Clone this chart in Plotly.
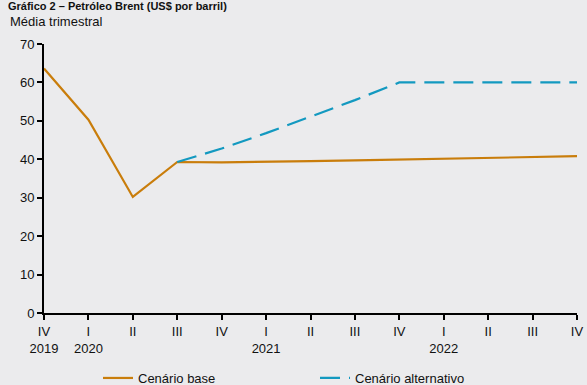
import plotly.graph_objects as go

tick_labels = ["IV<br>2019", "I<br>2020", "II", "III", "IV", "I<br>2021", "II", "III",
               "IV", "I<br>2022", "II", "III", "IV"]
base_values = [63.6, 50.3, 30.2, 39.3, 39.2, 39.3, 39.5, 39.7, 39.9, 40.1, 40.3, 40.6, 40.8]
alt_values = [None, None, None, 39.3, 42.8, 46.8, 51.0, 55.4, 60.0, 60.0, 60.0, 60.0, 60.0]
x = list(range(len(tick_labels)))

W, H = 587, 385
L, R, T, B = 44, 10, 44, 72
pw, ph = W - L - R, H - T - B

fig = go.Figure()
fig.add_trace(go.Scatter(x=x, y=base_values, mode="lines", name="Cenário base",
                         line=dict(color="#c97d0b", width=2.2)))
fig.add_trace(go.Scatter(x=x, y=alt_values, mode="lines", name="Cenário alternativo",
                         line=dict(color="#1399c0", width=2.2, dash="20px,9px")))

fig.update_layout(
    width=W, height=H,
    margin=dict(l=L, r=R, t=T, b=B, autoexpand=False),
    paper_bgcolor="#ebebed", plot_bgcolor="#ebebed",
    font=dict(family="Liberation Sans, Arial", size=13, color="#111"),
    showlegend=True,
    legend=dict(orientation="h", xref="paper", yref="paper",
                x=(98 - L) / pw, xanchor="left", y=(H - B - 378) / ph, yanchor="middle",
                font=dict(size=13), entrywidth=172, entrywidthmode="pixels",
                bgcolor="rgba(0,0,0,0)"),
    xaxis=dict(range=[0, 12], tickmode="array", tickvals=x, ticktext=tick_labels,
               showgrid=False, zeroline=False, showline=True, linecolor="black", linewidth=2,
               ticks="outside", ticklen=5, tickwidth=2, tickcolor="black",
               tickfont=dict(size=13)),
    yaxis=dict(range=[0, 70], tickvals=[0, 10, 20, 30, 40, 50, 60, 70],
               showgrid=False, zeroline=False, showline=True, linecolor="black", linewidth=2,
               ticks="outside", ticklen=5, tickwidth=2, tickcolor="black"),
    annotations=[
        dict(text="Média trimestral", xref="paper", yref="paper",
             x=(8 - L) / pw, y=(H - B - 22) / ph, xanchor="left", yanchor="middle",
             showarrow=False, font=dict(size=13)),
        dict(text="<b>Gráfico 2 – Petróleo Brent (US$ por barril)</b>", xref="paper", yref="paper",
             x=(6 - L) / pw, y=(H - B + 2) / ph, xanchor="left", yanchor="top",
             showarrow=False, font=dict(size=11)),
    ],
)

fig.write_html("out.html")
